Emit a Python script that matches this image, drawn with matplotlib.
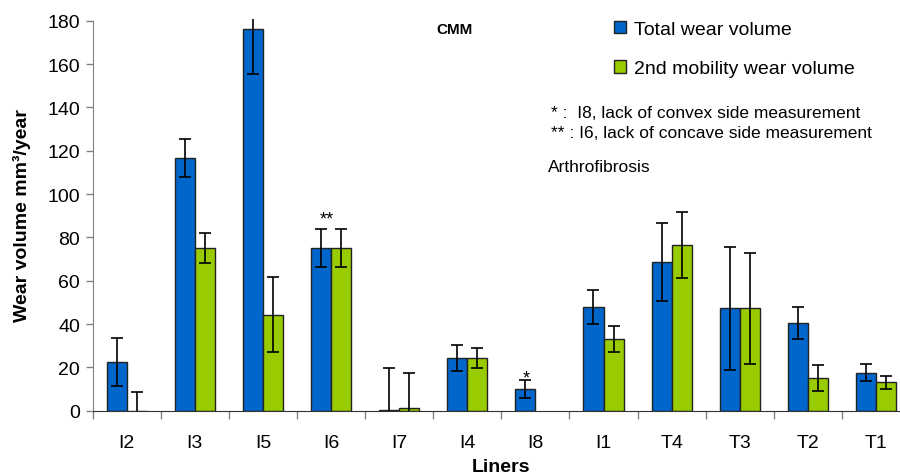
import numpy as np
import matplotlib
matplotlib.use("Agg")
import matplotlib.pyplot as plt

plt.rcParams['font.family'] = ['Liberation Sans', 'DejaVu Sans']

liners = ["I2", "I3", "I5", "I6", "I7", "I4", "I8", "I1", "T4", "T3", "T2", "T1"]
total = [22.5, 116.6, 176.3, 75.0, 0.5, 24.2, 10.0, 47.9, 68.5, 47.2, 40.5, 17.5]
total_err = [11.0, 8.7, 21.0, 8.7, 19.0, 6.0, 4.3, 7.8, 18.0, 28.3, 7.4, 4.0]
second = [0.0, 75.1, 44.2, 75.0, 1.2, 24.2, np.nan, 33.1, 76.6, 47.2, 15.0, 13.1]
second_err = [8.8, 7.0, 17.3, 8.7, 16.3, 4.7, np.nan, 6.2, 15.2, 25.6, 5.9, 3.0]

W, H = 900, 477
fig = plt.figure(figsize=(9, 4.77), dpi=100)
x0, x1 = 92.7, 910.0
y0, y1 = 411.7, 19.5
ax = fig.add_axes([x0 / W, (H - y0) / H, (x1 - x0) / W, (y0 - y1) / H])

x = np.arange(len(liners))
bw = 0.295
blue = "#0066CC"
green = "#99CC00"
ekw = dict(ecolor="black", elinewidth=1.2, capsize=4, capthick=1.2)
b1 = ax.bar(x - bw / 2, total, bw, color=blue, edgecolor="#222222", linewidth=1.0,
            yerr=total_err, error_kw=ekw, label="Total wear volume")
b2 = ax.bar(x + bw / 2, second, bw, color=green, edgecolor="#222222", linewidth=1.0,
            yerr=second_err, error_kw=ekw, label="2nd mobility wear volume")

ax.set_xlim(-0.5, len(liners) - 0.5)
ax.set_ylim(0, 181)
ax.set_yticks(np.arange(0, 181, 20))
ax.tick_params(axis='y', labelsize=14, length=5, width=1, color="#808080", pad=4)

ax.set_xticks(np.arange(-0.5, len(liners), 1.0))
ax.set_xticklabels([])
ax.tick_params(axis='x', which='major', length=6, width=1, color="#808080")
ax.set_xticks(x, minor=True)
ax.set_xticklabels(liners, minor=True)
ax.tick_params(axis='x', which='minor', length=0, labelsize=14, pad=17)

for s in ["top", "right"]:
    ax.spines[s].set_visible(False)
ax.spines["left"].set_color("#808080")
ax.spines["left"].set_bounds(0, 180)
ax.spines["bottom"].set_color("#333333")

ax.set_xlabel("Liners", fontsize=14, fontweight="bold")
ax.xaxis.set_label_coords(0.5, (y0 - 459) / (y0 - y1))
ax.set_ylabel("Wear volume mm³/year", fontsize=14, fontweight="bold")
ax.yaxis.set_label_coords((31 - x0) / (x1 - x0), 0.5)

# asterisks above bars
ax.text(3 - bw / 2 + 0.08, total[3] + total_err[3] + 1, "**", ha="center", va="bottom", fontsize=13)
ax.text(6 - bw / 2 + 0.02, total[6] + total_err[6] - 3, "*", ha="center", va="bottom", fontsize=13)

fig.text(436 / W, 1 - 30 / H, "CMM", fontsize=11, fontweight="bold", va="center", ha="left")

leg = ax.legend(handles=[b1, b2], loc="upper left",
                bbox_to_anchor=(606 / W, 1 - 14 / H), bbox_transform=fig.transFigure,
                frameon=False, fontsize=14, handlelength=0.62, handleheight=0.62,
                handletextpad=0.42, labelspacing=1.15, borderaxespad=0)
for h in leg.legend_handles:
    h.set_edgecolor("#222222")

fig.text(551 / W, 1 - 113 / H, "* :  I8, lack of convex side measurement", fontsize=12.5, va="center", ha="left")
fig.text(551 / W, 1 - 134 / H, "** : I6, lack of concave side measurement", fontsize=12.5, va="center", ha="left")
fig.text(548 / W, 1 - 167 / H, "Arthrofibrosis", fontsize=12.5, va="center", ha="left")

fig.savefig("out.png", dpi=100)
